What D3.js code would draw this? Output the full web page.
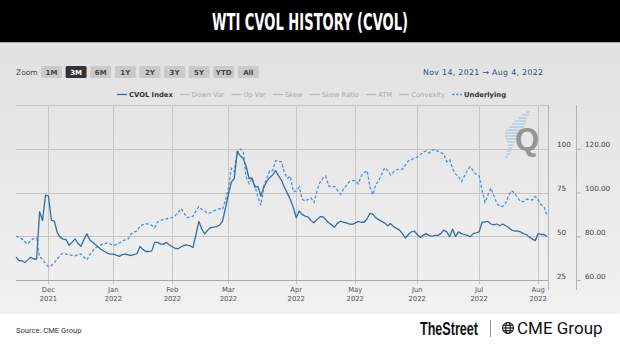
<!DOCTYPE html>
<html>
<head>
<meta charset="utf-8">
<script src="https://d3js.org/d3.v7.min.js"></script>
<style>
  body { margin: 0; background: #fff; }
  svg { display: block; }
</style>
</head>
<body>
<svg id="chart" width="620" height="353"></svg>
<script>
// trading calendar shown on the (ordinal) x axis
const startDate = "2021-11-15";
const endDate = "2022-08-04";
const holidays = ["2021-11-25", "2021-12-24", "2022-01-17", "2022-02-21",
  "2022-04-15", "2022-05-30", "2022-06-20", "2022-07-04"];

// CVOL index, left axis
const cvol = [
  38.1, 36.1, 36, 35, 36.5, 38, 37, 37, 64, 59, 73.5, 73, 59.2, 58.6, 52, 49.5, 48.3, 48, 44.8, 46.5,
  48.5, 46, 44.2, 48, 51.4, 48, 46.5, 45.2, 43.7, 42.3, 41.3, 40.3, 39.8, 39.8, 39.2, 38.5, 39.5, 39.8, 39.4, 39,
  39.5, 40, 44.2, 42.5, 41.3, 41.3, 41.5, 46.5, 46.5, 45.5, 45.5, 46.5, 45, 44, 43, 42.9, 44, 44.8, 45, 44.5,
  43.6, 51, 58.5, 54, 51.4, 53.5, 55, 55.2, 55.5, 56.3, 58.6, 66, 74, 81, 83, 98.5, 96, 94.5, 90, 83,
  83.3, 78, 78.5, 73, 78, 81.5, 83.5, 85, 87.5, 84.5, 82, 78, 74.5, 71, 66.5, 60.6, 64.4, 62.5, 61.5, 61,
  59, 57.7, 59.5, 61, 61.2, 59.5, 57.7, 56.5, 55.2, 57.5, 58.6, 58, 57.7, 57, 56.8, 57.5, 58.5, 58, 58, 60,
  63.1, 62.5, 60.5, 59.5, 58.5, 57.5, 56, 57.2, 55.5, 54.5, 53.5, 51.5, 49, 51, 52.5, 53, 51, 49.3, 50.5, 51.5,
  50.5, 50, 50.5, 50.5, 51.5, 53.5, 52.5, 49.8, 54, 49.8, 52.5, 51.5, 51, 50.5, 49.8, 51.5, 52, 52.5, 58, 58.2,
  58.5, 57, 56.5, 57, 56, 57, 56, 55, 53.5, 53, 53, 52.5, 51.5, 51, 49.5, 48.5, 47.5, 51.5, 51, 51,
  49.8
];

// WTI underlying price, right axis
const underlying = [
  80, 79.5, 78.8, 77.5, 76.5, 78, 79, 79.2, 70.5, 69.5, 67.5, 66.1, 66.6, 68, 69.6, 71.5, 72.3, 71.8, 71.5, 71.3,
  71.1, 71.5, 71.9, 70.5, 69.2, 71.5, 73.2, 74.8, 75.5, 76.2, 76.5, 76.9, 76.5, 75.7, 76.3, 76.9, 77.7, 78.3, 78.8, 81,
  82, 82.3, 84.5, 85.3, 85.8, 85.5, 85, 83.9, 86.5, 87.2, 87.7, 88, 88.3, 88.5, 89.5, 91, 92.6, 90.5, 88.5, 88.8,
  89.2, 91.5, 93.6, 92.2, 91.5, 90.5, 90.8, 91.5, 92.2, 92.6, 92.3, 96.5, 102, 111, 109.5, 118.5, 120, 119, 107, 104,
  106.5, 103, 98, 94.2, 103, 106.5, 110, 110, 114.5, 114.3, 114, 109, 106.5, 107.5, 100.3, 100.7, 102.5, 97, 96.1, 96.8,
  97.5, 95.4, 100.5, 104.5, 106.5, 107.5, 103, 102.5, 102.8, 101, 99.2, 101.5, 103.3, 105, 105.4, 105.4, 104, 107.5, 109, 110,
  102.5, 99, 103.8, 105.4, 108.5, 111.3, 110, 108, 109.5, 110.5, 110.6, 110.7, 112.5, 114.5, 115, 115.6, 116.2, 117.2, 118.5, 119,
  118, 119.3, 119.8, 118.8, 118.2, 117.6, 114.1, 115, 111, 108.5, 107.2, 105, 107.5, 110.2, 111.8, 109.8, 108.3, 107.5, 100.8, 95.5,
  99, 102, 98.5, 95, 93.8, 93.6, 95.2, 98.8, 100.8, 99.8, 97.5, 96, 95.8, 96.9, 96.8, 96.6, 98.2, 96.5, 94.4, 93.5,
  89.5
];

const leftTicks = [25, 50, 75, 100];
const rightTicks = [60, 80, 100, 120];
const zoomButtons = ["1M", "3M", "6M", "1Y", "2Y", "3Y", "5Y", "YTD", "All"];
const activeButton = "3M";
const legendNames = ["CVOL Index", "Down Var", "Up Var", "Skew", "Skew Ratio", "ATM", "Convexity", "Underlying"];
const legendShown = ["CVOL Index", "Underlying"];

const parse = d3.timeParse("%Y-%m-%d");
const fmt = d3.timeFormat("%Y-%m-%d");
const days = d3.timeDay.range(parse(startDate), d3.timeDay.offset(parse(endDate), 1))
  .filter(d => d.getDay() !== 0 && d.getDay() !== 6 && !holidays.includes(fmt(d)));

const svg = d3.select("#chart");
const W = 620, H = 353;
const plot = { left: 16, right: 547, top: 105, bottom: 280 };

const defs = svg.append("defs");
const grad = defs.append("linearGradient").attr("id", "panel")
  .attr("x1", 0).attr("y1", 0).attr("x2", 0).attr("y2", 1);
grad.append("stop").attr("offset", "0%").attr("stop-color", "#e1e1e1");
grad.append("stop").attr("offset", "100%").attr("stop-color", "#f1f1f1");

// background
svg.append("rect").attr("width", W).attr("height", H).attr("fill", "#fff");
svg.append("rect").attr("x", 0).attr("y", 42).attr("width", W).attr("height", 272).attr("fill", "url(#panel)");
svg.append("rect").attr("width", W).attr("height", 42).attr("fill", "#000");
svg.append("line").attr("x1", 0).attr("x2", W).attr("y1", 42.5).attr("y2", 42.5)
  .attr("stroke", "#a9a9a9").attr("stroke-width", 1);

svg.append("text")
  .attr("x", 310).attr("y", 29.5)
  .attr("text-anchor", "middle")
  .attr("font-family", "'Liberation Sans Narrow', 'DejaVu Sans Condensed', sans-serif")
  .attr("font-weight", "bold").attr("font-size", 23)
  .attr("textLength", 196).attr("lengthAdjust", "spacingAndGlyphs")
  .attr("fill", "#fff")
  .text("WTI CVOL HISTORY (CVOL)");

// range selector
const ui = "'DejaVu Sans', Verdana, sans-serif";
svg.append("text").attr("x", 16).attr("y", 74.5)
  .attr("font-family", ui).attr("font-size", 7.5).attr("fill", "#444").text("Zoom");

const btn = svg.append("g").selectAll("g").data(zoomButtons).join("g")
  .attr("transform", (d, i) => `translate(${41 + i * 24.6},66)`);
btn.append("rect").attr("width", 21).attr("height", 12).attr("rx", 1.5)
  .attr("fill", d => d === activeButton ? "#333" : "#c9c9c9");
btn.append("text").attr("x", 10.5).attr("y", 8.8).attr("text-anchor", "middle")
  .attr("font-family", ui).attr("font-size", 7).attr("font-weight", "bold")
  .attr("fill", d => d === activeButton ? "#fff" : "#444").text(d => d);

svg.append("text").attr("x", 423).attr("y", 74.5)
  .attr("font-family", ui).attr("font-size", 7.8).attr("fill", "#2b4c7e")
  .attr("textLength", 120).attr("lengthAdjust", "spacing")
  .text("Nov 14, 2021  \u2192  Aug 4, 2022");

// scales
const x = d3.scaleLinear().domain([0, days.length - 1]).range([plot.left, plot.right]);
const yL = d3.scaleLinear().domain([25, 125]).range([plot.bottom, plot.top]);
const yR = d3.scaleLinear().domain([60, 140]).range([plot.bottom, plot.top]);

// month ticks at first trading day of each month
const monthStarts = days.map((d, i) => ({ d, i }))
  .filter((o, k, arr) => k > 0 && o.d.getMonth() !== arr[k - 1].d.getMonth());

const grid = svg.append("g").attr("stroke", "#c6c6c6").attr("stroke-width", 1);
grid.selectAll("line.h").data([25, 50, 75, 100, 125]).join("line").attr("class", "h")
  .attr("x1", plot.left).attr("x2", plot.right + 1)
  .attr("y1", d => Math.round(yL(d)) + 0.5).attr("y2", d => Math.round(yL(d)) + 0.5);
grid.selectAll("line.v").data(monthStarts).join("line").attr("class", "v")
  .attr("x1", o => Math.round(x(o.i)) + 0.5).attr("x2", o => Math.round(x(o.i)) + 0.5)
  .attr("y1", plot.top).attr("y2", plot.bottom + 4);

// x axis line & right edge lines
svg.append("line").attr("x1", plot.left).attr("x2", plot.right + 1)
  .attr("y1", plot.bottom + 0.5).attr("y2", plot.bottom + 0.5).attr("stroke", "#a8a8a8");
svg.append("line").attr("x1", plot.right + 1.5).attr("x2", plot.right + 1.5)
  .attr("y1", plot.top).attr("y2", plot.bottom + 10).attr("stroke", "#b4b4b4");
svg.append("line").attr("x1", 576.5).attr("x2", 576.5)
  .attr("y1", plot.top).attr("y2", plot.bottom + 10).attr("stroke", "#b4b4b4");

const fontAxis = "'DejaVu Sans', Verdana, sans-serif";
const xl = svg.append("g").selectAll("text").data(monthStarts).join("text")
  .attr("x", o => x(o.i)).attr("text-anchor", "middle")
  .attr("font-family", fontAxis).attr("font-size", 6.8).attr("fill", "#555");
xl.append("tspan").attr("x", o => x(o.i)).attr("y", 292).text(o => d3.timeFormat("%b")(o.d));
xl.append("tspan").attr("x", o => x(o.i)).attr("y", 301).text(o => d3.timeFormat("%Y")(o.d));

svg.append("g").selectAll("text").data(leftTicks).join("text")
  .attr("x", 557).attr("y", d => yL(d) - 1.5)
  .attr("font-family", fontAxis).attr("font-size", 7.2).attr("fill", "#444").text(d => d);

const rt = svg.append("g").selectAll("g").data(rightTicks).join("g");
rt.append("line").attr("x1", 576).attr("x2", 581)
  .attr("y1", d => yR(d) + 0.5).attr("y2", d => yR(d) + 0.5).attr("stroke", "#b4b4b4");
rt.append("text").attr("x", 585).attr("y", d => yR(d) - 1.5)
  .attr("font-family", fontAxis).attr("font-size", 7.2).attr("fill", "#444")
  .text(d => d3.format(".2f")(d));

// Q watermark
const stripes = [[112, 526, 530], [115, 522, 529], [118, 519, 527], [121, 515, 526], [124, 512, 525],
  [127, 509, 524], [130, 506, 523], [133, 505, 521], [136, 505, 519], [139, 506, 517],
  [142, 507, 515], [145, 508, 513], [148, 508, 512], [151, 507, 511], [154, 506, 510], [157, 505, 508]];
svg.append("g").selectAll("line").data(stripes).join("line")
  .attr("x1", d => d[1]).attr("x2", d => d[2]).attr("y1", d => d[0]).attr("y2", d => d[0])
  .attr("stroke", "#9cc6ec").attr("stroke-width", 1.2);
svg.append("text").attr("x", 515).attr("y", 150)
  .attr("font-family", "'Liberation Sans', Arial, sans-serif").attr("font-weight", "bold")
  .attr("font-size", 31).attr("fill", "#8d8d8d").attr("opacity", 0.9).text("Q");

// series
const lineL = d3.line().x((d, i) => x(i)).y(d => yL(d));
const lineR = d3.line().x((d, i) => x(i)).y(d => yR(d));
svg.append("path").datum(underlying).attr("d", lineR)
  .attr("fill", "none").attr("stroke", "#4b92dc").attr("stroke-width", 1.3)
  .attr("stroke-dasharray", "3,2");
svg.append("path").datum(cvol).attr("d", lineL)
  .attr("fill", "none").attr("stroke", "#336ea6").attr("stroke-width", 1.3)
  .attr("stroke-linejoin", "round");

// legend
const leg = svg.append("g");
let lx = 117;
legendNames.forEach(name => {
  const on = legendShown.includes(name);
  const dashed = name === "Underlying";
  leg.append("line").attr("x1", lx).attr("x2", lx + 10).attr("y1", 94.5).attr("y2", 94.5)
    .attr("stroke", on ? (dashed ? "#4b92dc" : "#336ea6") : "#bbb").attr("stroke-width", 1.3)
    .attr("stroke-dasharray", dashed ? "2.5,1.5" : null);
  const t = leg.append("text").attr("x", lx + 12).attr("y", 97)
    .attr("font-family", ui).attr("font-size", 6.8)
    .attr("font-weight", on ? "bold" : "normal")
    .attr("fill", on ? "#333" : "#aaa").text(name);
  lx += 12 + t.node().getComputedTextLength() + 7;
});

// footer
svg.append("text").attr("x", 16).attr("y", 333)
  .attr("font-family", "Roboto, 'Open Sans', sans-serif").attr("font-size", 7.6)
  .attr("fill", "#333").text("Source: CME Group");
svg.append("text").attr("x", 420).attr("y", 335)
  .attr("font-family", "'Liberation Sans Narrow', sans-serif").attr("font-weight", "bold")
  .attr("font-size", 18).attr("fill", "#111")
  .attr("textLength", 58).attr("lengthAdjust", "spacingAndGlyphs").text("TheStreet");
svg.append("line").attr("x1", 490.5).attr("x2", 490.5).attr("y1", 320).attr("y2", 337)
  .attr("stroke", "#999");
const globe = svg.append("g").attr("transform", "translate(508,328)")
  .attr("fill", "none").attr("stroke", "#111").attr("stroke-width", 1.1);
globe.append("circle").attr("r", 5.5);
globe.append("ellipse").attr("rx", 2.3).attr("ry", 5.5);
globe.append("line").attr("x1", -5.5).attr("x2", 5.5);
globe.append("line").attr("x1", -4.8).attr("x2", 4.8).attr("y1", -2.7).attr("y2", -2.7);
globe.append("line").attr("x1", -4.8).attr("x2", 4.8).attr("y1", 2.7).attr("y2", 2.7);
svg.append("text").attr("x", 517).attr("y", 334)
  .attr("font-family", "Roboto, 'Open Sans', sans-serif")
  .attr("font-size", 17).attr("fill", "#111").text("CME Group");
</script>
</body>
</html>
